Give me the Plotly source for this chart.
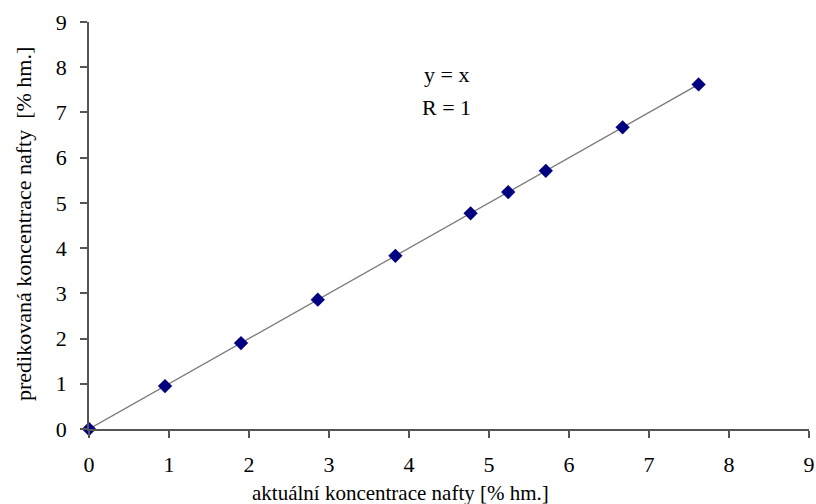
import plotly.graph_objects as go

actual = [0, 0.95, 1.9, 2.86, 3.83, 4.77, 5.24, 5.71, 6.67, 7.62]
predicted = [0, 0.95, 1.9, 2.86, 3.83, 4.77, 5.24, 5.71, 6.67, 7.62]
ticks = list(range(0, 10))
x_title = "aktuální koncentrace nafty [% hm.]"
y_title = "predikovaná koncentrace nafty  [% hm.]"
eq_lines = ["y = x", "R = 1"]

fig = go.Figure()
fig.add_trace(go.Scatter(x=actual, y=predicted, mode="lines",
                         line=dict(color="#7a7a7a", width=1.3), showlegend=False,
                         hoverinfo="skip", cliponaxis=False))
fig.add_trace(go.Scatter(x=actual, y=predicted, mode="markers",
                         marker=dict(symbol="diamond", size=11, color="#000080"),
                         showlegend=False, cliponaxis=False))

font = "Liberation Serif"
axis_common = dict(range=[0, 9], tickvals=ticks, showgrid=False, zeroline=False,
                   showline=True, linecolor="#555555", linewidth=1.5,
                   ticks="outside", ticklen=7, tickcolor="#555555", tickwidth=1.5,
                   tickfont=dict(size=22, family=font, color="black"),
                   automargin=False)
fig.update_layout(
    width=816, height=504,
    margin=dict(l=89, r=7, t=22, b=75),
    plot_bgcolor="white", paper_bgcolor="white",
    font=dict(family=font, color="black", size=18),
    xaxis=dict(**axis_common, ticklabelstandoff=8),
    yaxis=dict(**axis_common, ticklabelstandoff=9),
)
fig.add_annotation(x=0.433, y=-0.157, xref="paper", yref="paper", text=x_title,
                   showarrow=False, font=dict(size=21, family=font),
                   xanchor="center", yanchor="middle")
fig.add_annotation(x=-0.09, y=0.504, xref="paper", yref="paper", text=y_title,
                   showarrow=False, font=dict(size=22, family=font), textangle=-90,
                   xanchor="center", yanchor="middle")
fig.add_annotation(x=4.47, y=7.85, xref="x", yref="y", text=eq_lines[0],
                   showarrow=False, font=dict(size=22, family=font))
fig.add_annotation(x=4.47, y=7.12, xref="x", yref="y", text=eq_lines[1],
                   showarrow=False, font=dict(size=22, family=font))
fig.write_html("out.html", config={"displayModeBar": False},
               post_script="document.body.style.margin='0';")
